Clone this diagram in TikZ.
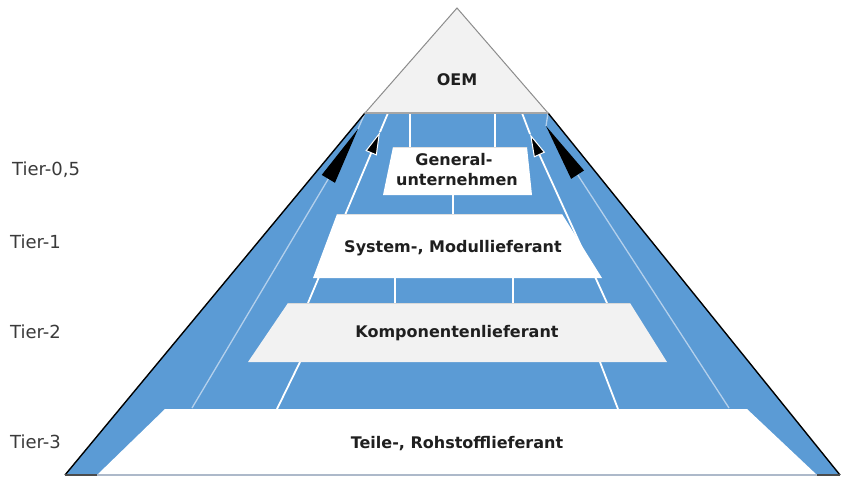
\documentclass[tikz,border=0pt]{standalone}
\usepackage{fontspec}
\setmainfont{DejaVu Sans}
\usetikzlibrary{arrows.meta}
\definecolor{pblue}{HTML}{5B9BD5}
\definecolor{pgray}{HTML}{F2F2F2}
\definecolor{tgray}{HTML}{3A3A3A}
\definecolor{edgegray}{HTML}{ADB9CA}
\definecolor{oemedge}{HTML}{8C8C8C}
\definecolor{lightline}{HTML}{B4D0EC}
\begin{document}
\begin{tikzpicture}[x=1pt,y=-1pt,
  tierlabel/.style={anchor=base west, font=\fontsize{18}{20}\selectfont, text=tgray, inner sep=0pt},
  boxlabel/.style={anchor=base, font=\bfseries\fontsize{16}{19}\selectfont, text=black!88, inner sep=0pt},
  divider/.style={white, line width=1.8pt},
  guide/.style={lightline, line width=1.3pt},
  wline/.style={white, line width=1.8pt},
  bigtip/.style={-{Triangle[length=58pt,width=15pt,black]}},
  smalltip/.style={-{Triangle[length=23pt,width=12pt,fill=black,line width=1pt]}}]
\useasboundingbox (0,0) rectangle (841,482);
% main points
\coordinate (apex) at (457,8);
\coordinate (tl) at (365,113);
\coordinate (tr) at (548,113);
\coordinate (bl) at (65,475);
\coordinate (br) at (840,475);
% blue pyramid body
\fill[pblue] (tl) -- (tr) -- (br) -- (bl) -- cycle;
% guide lines / arrows
\coordinate (aLb) at (192,408);
\coordinate (aLt) at (358,129);
\coordinate (aRb) at (729,408);
\coordinate (aRt) at (546,126);
\coordinate (bLb) at (308,303);
\coordinate (bLm) at (380,132);
\coordinate (bLt) at (388,113);
\coordinate (bRb) at (607,303);
\coordinate (bRm) at (530,134);
\coordinate (bRt) at (522,113);
\draw[guide] (aLt) -- (tl);
\draw[guide] (aRt) -- (tr);
\draw[wline] (bLm) -- (bLt);
\draw[wline] (bRm) -- (bRt);
% vertical dividers
\coordinate (v1a) at (410,113); \coordinate (v1b) at (410,147);
\coordinate (v2a) at (495,113); \coordinate (v2b) at (495,147);
\coordinate (v3a) at (453,195); \coordinate (v3b) at (453,214);
\coordinate (v4a) at (395,278); \coordinate (v4b) at (395,303);
\coordinate (v5a) at (513,278); \coordinate (v5b) at (513,303);
\coordinate (d1a) at (300,362); \coordinate (d1b) at (277,409);
\coordinate (d2a) at (600,362); \coordinate (d2b) at (618,409);
\draw[divider] (v1a) -- (v1b);
\draw[divider] (v2a) -- (v2b);
\draw[divider] (v3a) -- (v3b);
\draw[divider] (v4a) -- (v4b);
\draw[divider] (v5a) -- (v5b);
\draw[divider] (d1a) -- (d1b);
\draw[divider] (d2a) -- (d2b);
% arrows towards OEM
\draw[guide, bigtip] (aLb) -- (aLt);
\draw[guide, bigtip] (aRb) -- (aRt);
\draw[wline, smalltip] (bLb) -- (bLm);
\draw[wline, smalltip] (bRb) -- (bRm);
% tier boxes (cover the guide lines where they pass under)
\fill[white] (393,147) -- (527,147) -- (532,195) -- (383,195) -- cycle;
\draw[black!12, line width=1pt] (393,147.5) -- (527,147.5);
\fill[white] (337,214) -- (562,214) -- (602,278) -- (313,278) -- cycle;
\draw[black!12, line width=1pt] (337,214.5) -- (562,214.5);
\fill[pgray] (288,303) -- (630,303) -- (667,362) -- (248,362) -- cycle;
\draw[black!15, line width=1pt] (288,303.5) -- (630,303.5);
\fill[white] (165,409) -- (747,409) -- (817,475) -- (97,475) -- cycle;
% pyramid edges
\draw[black, line width=1.4pt] (tl) -- (bl);
\draw[black, line width=1.4pt] (tr) -- (br);
\draw[black!70, line width=2pt] (bl) -- (br);
\draw[edgegray, line width=2pt] (97,475) -- (817,475);
% OEM triangle
\filldraw[fill=pgray, draw=oemedge, line width=1pt, line join=miter] (tl) -- (apex) -- (tr) -- cycle;
\draw[black!35, line width=2pt] (tl) -- (tr);
% texts
\node[boxlabel] (oem) at (457,85) {OEM};
\node[boxlabel] (gen1) at (454,165) {General-};
\node[boxlabel] (gen2) at (457,185) {unternehmen};
\node[boxlabel] (t1) at (453,252) {System-, Modullieferant};
\node[boxlabel] (t2) at (457,337) {Komponentenlieferant};
\node[boxlabel] (t3) at (457,448) {Teile-, Rohstofflieferant};
\node[tierlabel] (l0) at (12,175) {Tier-0,5};
\node[tierlabel] (l1) at (10,248) {Tier-1};
\node[tierlabel] (l2) at (10,338) {Tier-2};
\node[tierlabel] (l3) at (10,448) {Tier-3};
\end{tikzpicture}
\end{document}
